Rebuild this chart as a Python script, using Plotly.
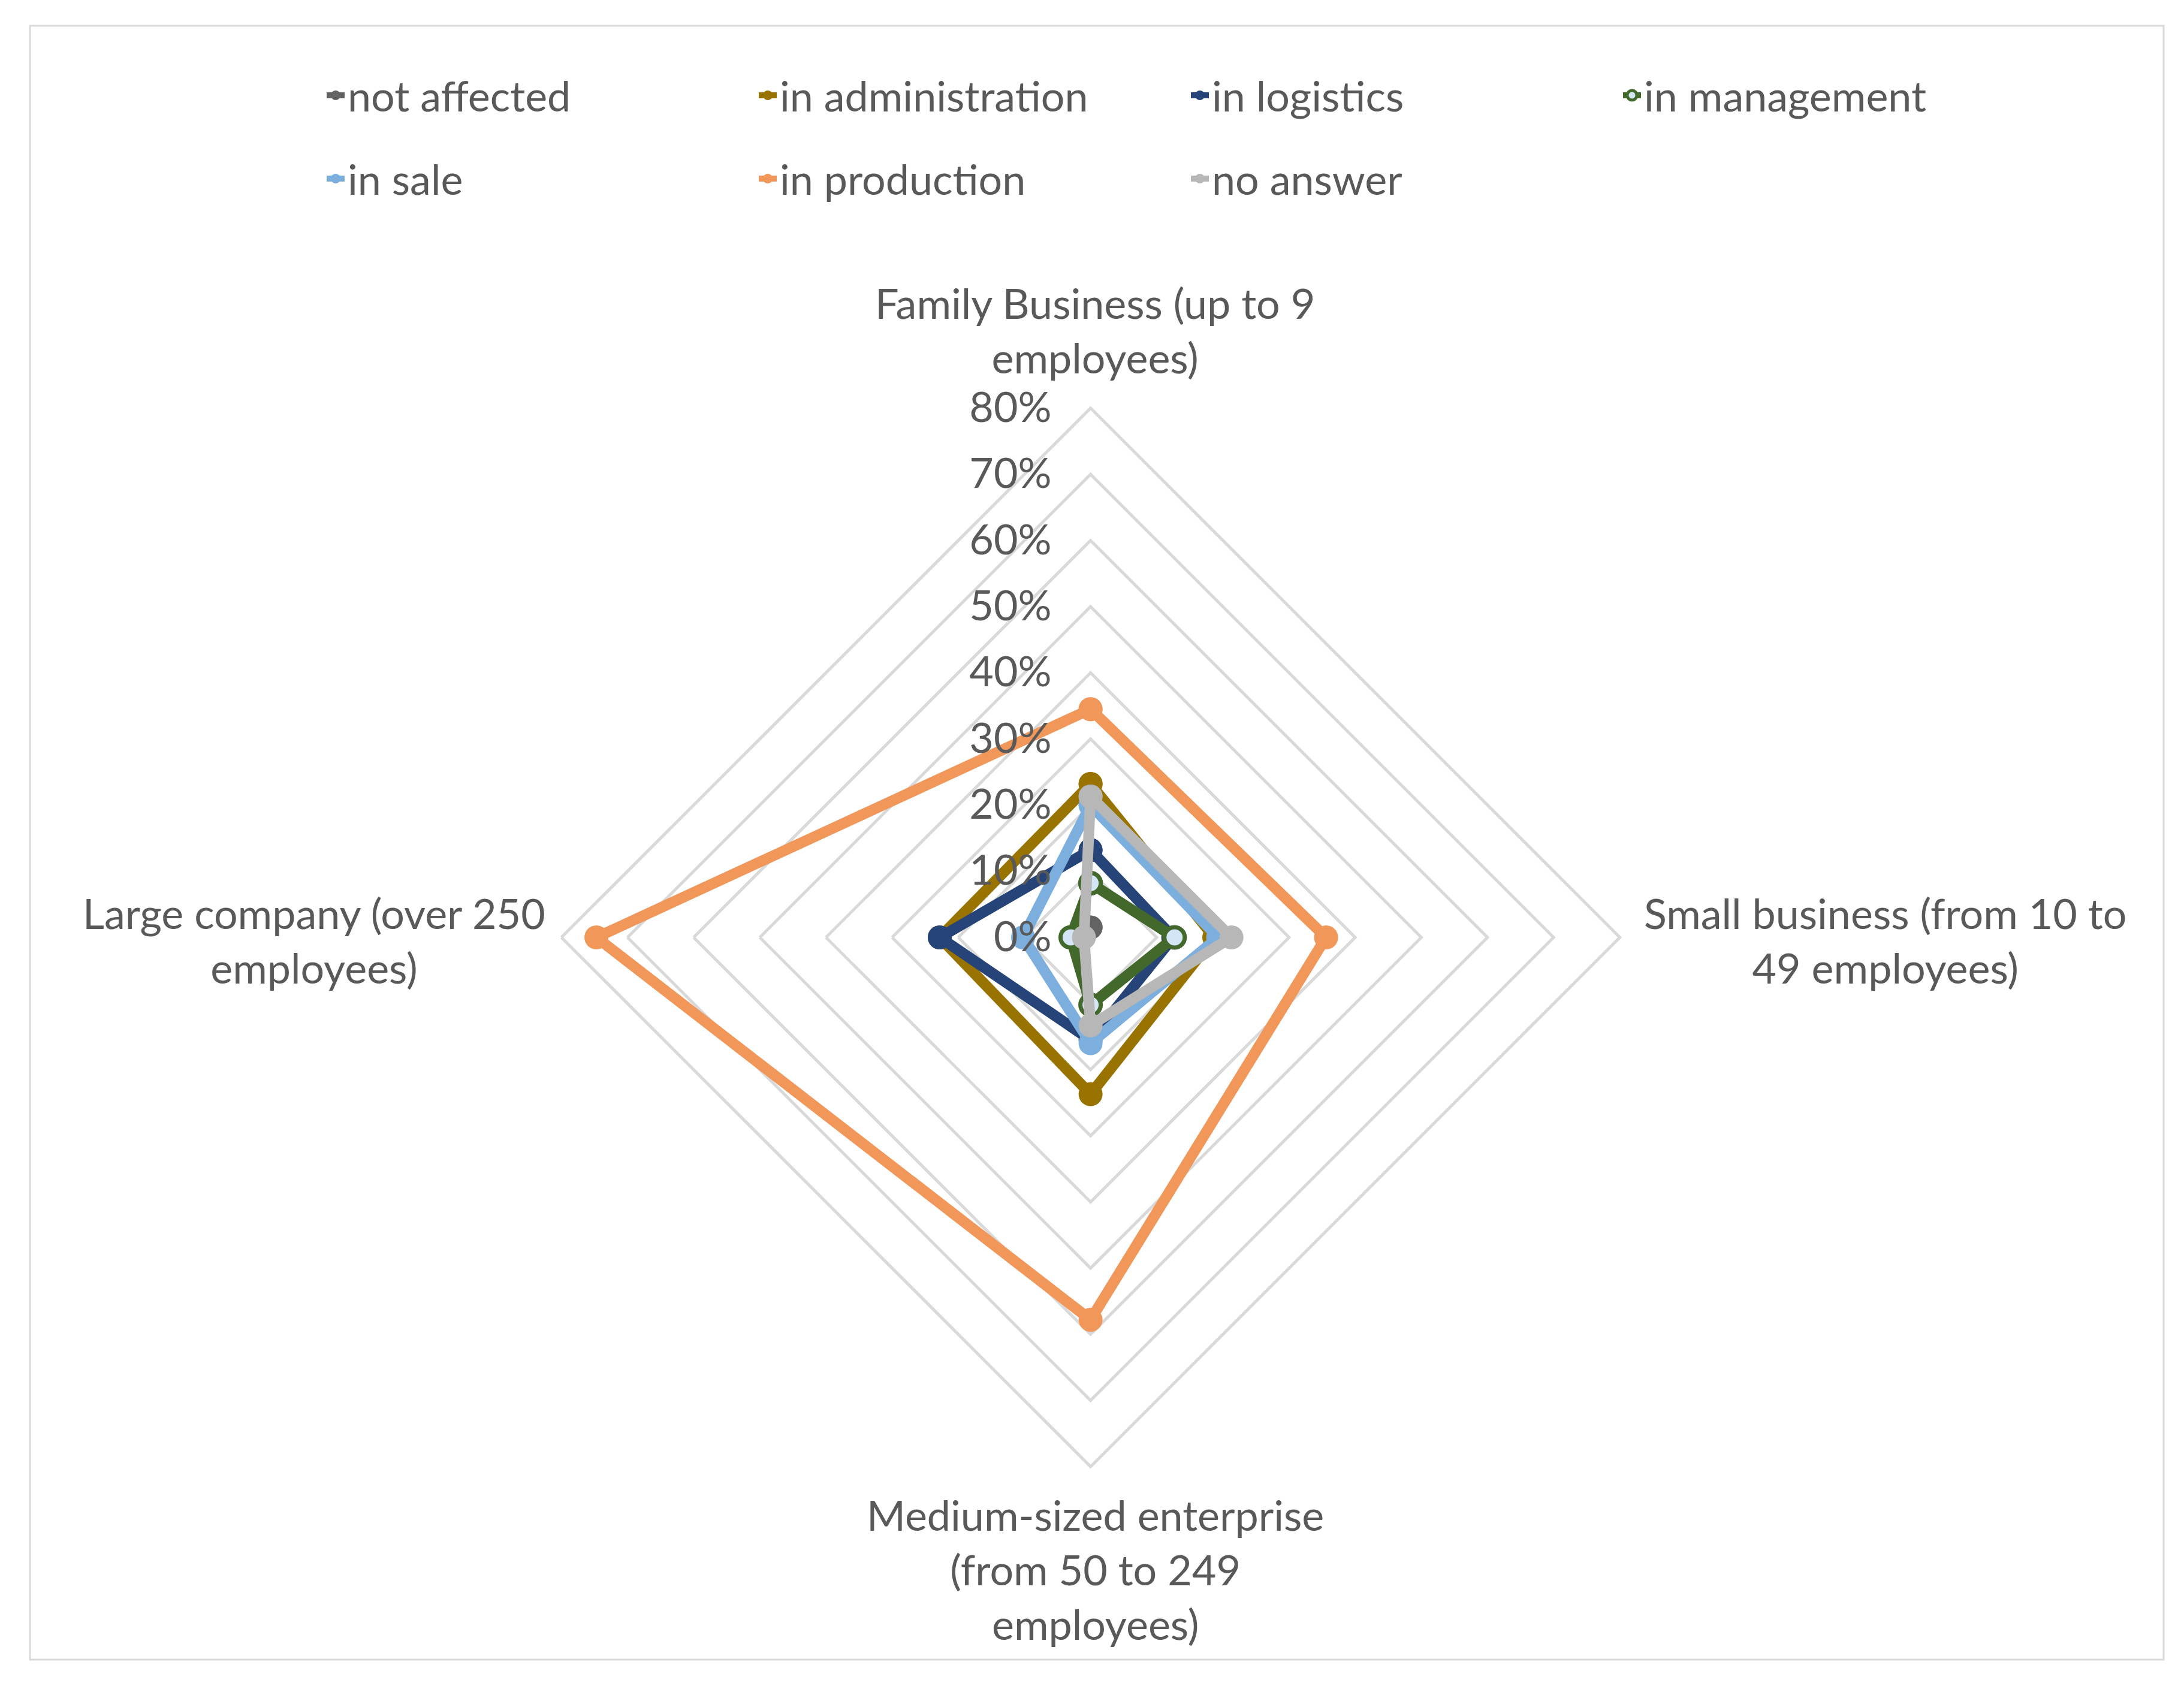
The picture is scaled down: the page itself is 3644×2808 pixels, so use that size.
import plotly.graph_objects as go

categories = [
    "Family Business (up to 9 employees)",
    "Small business (from 10 to 49 employees)",
    "Medium-sized enterprise (from 50 to 249 employees)",
    "Large company (over 250 employees)",
]
category_labels = [
    "Family Business (up to 9<br>employees)",
    "Small business (from 10 to<br>49 employees)",
    "Medium-sized enterprise<br>(from 50 to 249<br>employees)",
    "Large company (over 250<br>employees)",
]
series_names = ["not affected", "in administration", "in logistics", "in management",
                "in sale", "in production", "no answer"]
not_affected = [0.015, 0.0, 0.0, 0.0]
in_administration = [0.232, 0.187, 0.237, 0.228]
in_logistics = [0.132, 0.125, 0.155, 0.228]
in_management = [0.082, 0.127, 0.102, 0.03]
in_sale = [0.20, 0.193, 0.16, 0.102]
in_production = [0.345, 0.356, 0.578, 0.747]
no_answer = [0.213, 0.213, 0.133, 0.01]
radial_ticks = [0, 0.1, 0.2, 0.3, 0.4, 0.5, 0.6, 0.7, 0.8]

series_values = [not_affected, in_administration, in_logistics, in_management,
                 in_sale, in_production, no_answer]
colors = ["#636363", "#997300", "#264478", "#43682B", "#7CAFDD", "#F1975A", "#B7B7B7"]

FONT = "Lato"
TXT = "#595959"
FS = 70

fig = go.Figure()
for i, (name, vals, col) in enumerate(zip(series_names, series_values, colors)):
    if name == "in management":
        marker = dict(size=34, color="#D4E5F6", line=dict(color=col, width=7))
    else:
        marker = dict(size=40, color=col)
    fig.add_trace(go.Scatterpolar(
        r=vals + vals[:1],
        theta=categories + categories[:1],
        mode="lines+markers",
        name=name,
        line=dict(color=col, width=18),
        marker=marker,
        legend="legend" if i < 4 else "legend2",
    ))

W, H = 3644, 2808
cx, cy, R = 1811.6, 1556.0, 883.0
leg_common = dict(orientation="h", x=0.146, yanchor="middle", xanchor="left",
                  entrywidth=676, entrywidthmode="pixels",
                  font=dict(family=FONT, size=FS, color=TXT))
fig.update_layout(
    width=W, height=H,
    margin=dict(l=0, r=0, t=0, b=0),
    paper_bgcolor="white",
    font=dict(family=FONT, size=FS, color=TXT),
    polar=dict(
        domain=dict(x=[(cx - R) / W, (cx + R) / W], y=[1 - (cy + R) / H, 1 - (cy - R) / H]),
        bgcolor="white",
        gridshape="linear",
        angularaxis=dict(
            rotation=90, direction="clockwise", type="category",
            categoryarray=categories,
            showgrid=False, showticklabels=False, ticks="",
            showline=True, linecolor="#D9D9D9", linewidth=5,
        ),
        radialaxis=dict(
            range=[0, 0.8], tickvals=radial_ticks, tickformat=".0%",
            angle=90, tickangle=90, side="counterclockwise",
            showline=False, gridcolor="#D9D9D9", gridwidth=5,
            ticks="outside", ticklen=40, tickcolor="rgba(0,0,0,0)",
            tickfont=dict(family=FONT, size=FS, color=TXT),
        ),
    ),
    legend=dict(y=1 - 151 / H, **leg_common),
    legend2=dict(y=1 - 290 / H, **leg_common),
    showlegend=True,
)

ann_pos = [
    (1819 / W, 1 - 632 / H, "center", "bottom"),
    (3137 / W, 1 - 1560 / H, "center", "middle"),
    (1819 / W, 1 - 2475 / H, "center", "top"),
    (516 / W, 1 - 1560 / H, "center", "middle"),
]
for lab, (x, y, xa, ya) in zip(category_labels, ann_pos):
    fig.add_annotation(text=lab, x=x, y=y, xref="paper", yref="paper",
                       xanchor=xa, yanchor=ya, showarrow=False, align="center",
                       font=dict(family=FONT, size=FS, color=TXT))

fig.add_shape(type="rect", xref="paper", yref="paper",
              x0=42 / W, x1=3602 / W, y0=1 - 2761 / H, y1=1 - 35 / H,
              line=dict(color="#D9D9D9", width=3))

fig.write_html("out.html")
